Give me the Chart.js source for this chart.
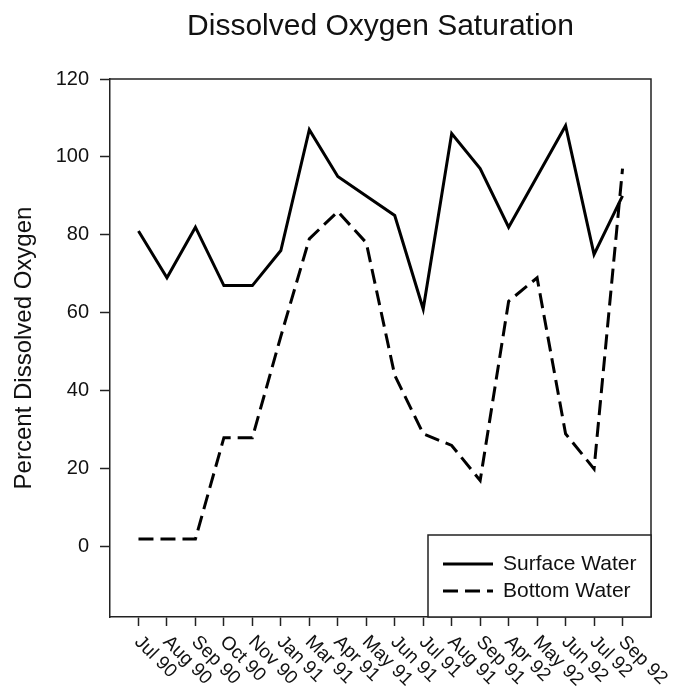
<!DOCTYPE html>
<html lang="en">
<head>
  <meta charset="UTF-8" />
  <title>Dissolved Oxygen Saturation</title>
  <script src="https://cdn.jsdelivr.net/npm/chart.js"></script>
  <style>
    body { margin: 0; background: #fff; }
    #wrap { width: 673px; height: 693px; position: relative; }
  </style>
</head>
<body>
  <div id="wrap"><canvas id="doChart"></canvas></div>
  <script>
    const chartTitle = 'Dissolved Oxygen Saturation';
    const months = ['Jul 90', 'Aug 90', 'Sep 90', 'Oct 90', 'Nov 90', 'Jan 91', 'Mar 91', 'Apr 91', 'May 91',
                    'Jun 91', 'Jul 91', 'Aug 91', 'Sep 91', 'Apr 92', 'May 92', 'Jun 92', 'Jul 92', 'Sep 92'];
    const surfaceWater = [81, 69, 82, 67, 67, 76, 107, 95, 90, 85, 61, 106, 97, 82, 95, 108, 75, 90];
    const bottomWater = [2, 2, 2, 28, 28, 54, 79, 86, 78, 44, 29, 26, 17, 63, 69, 29, 20, 97];
    const yTicks = [0, 20, 40, 60, 80, 100, 120];

    const FONT = '"Liberation Sans", Arial, sans-serif';
    const INK = '#111';
    const AXIS = '#222';

    // title centred over the plot, top/right frame, slanted month labels, boxed legend
    const framePlugin = {
      id: 'frame',
      afterDatasetsDraw(chart) {
        const ctx = chart.ctx;
        const a = chart.chartArea;
        const x = chart.scales.x;
        ctx.save();

        ctx.font = '30px ' + FONT;
        ctx.fillStyle = INK;
        ctx.textAlign = 'center';
        ctx.textBaseline = 'alphabetic';
        ctx.fillText(chartTitle, (a.left + a.right) / 2, 35);

        ctx.strokeStyle = AXIS;
        ctx.lineWidth = 1.5;
        ctx.beginPath();
        ctx.moveTo(a.left, a.top);
        ctx.lineTo(a.right, a.top);
        ctx.lineTo(a.right, a.bottom);
        ctx.stroke();

        ctx.font = '19px ' + FONT;
        ctx.textAlign = 'left';
        ctx.textBaseline = 'middle';
        months.forEach((m, i) => {
          const px = x.getPixelForValue(i);
          ctx.save();
          ctx.translate(px - 1, a.bottom + 22);
          ctx.rotate(Math.PI / 4);
          ctx.fillText(m, 0, 0);
          ctx.restore();
        });

        // legend
        const bx = a.right - 223, by = a.bottom - 82;
        ctx.fillStyle = '#fff';
        ctx.fillRect(bx, by, 223, 82);
        ctx.strokeStyle = AXIS;
        ctx.lineWidth = 1.5;
        ctx.strokeRect(bx, by, 223, 82);
        ctx.font = '21px ' + FONT;
        chart.data.datasets.forEach((ds, i) => {
          const ly = by + 29 + i * 27;
          ctx.strokeStyle = ds.borderColor;
          ctx.lineWidth = ds.borderWidth;
          ctx.setLineDash(ds.borderDash || []);
          ctx.beginPath();
          ctx.moveTo(bx + 15, ly);
          ctx.lineTo(bx + 65, ly);
          ctx.stroke();
          ctx.setLineDash([]);
          ctx.fillStyle = INK;
          ctx.fillText(ds.label, bx + 75, ly);
        });
        ctx.restore();
      }
    };

    new Chart(document.getElementById('doChart'), {
      type: 'line',
      data: {
        datasets: [{
          label: 'Surface Water',
          data: surfaceWater.map((v, i) => ({ x: i, y: v })),
          borderColor: '#000',
          borderWidth: 3,
          pointRadius: 0,
          tension: 0
        }, {
          label: 'Bottom Water',
          data: bottomWater.map((v, i) => ({ x: i, y: v })),
          borderColor: '#000',
          borderWidth: 3,
          borderDash: [15, 7],
          pointRadius: 0,
          tension: 0
        }]
      },
      options: {
        responsive: true,
        maintainAspectRatio: false,
        animation: false,
        layout: { padding: { left: 0, right: 22, top: 79, bottom: 0 } },
        plugins: {
          legend: { display: false },
          tooltip: { enabled: false },
          title: { display: false }
        },
        scales: {
          x: {
            type: 'linear',
            min: -1,
            max: 18,
            afterBuildTicks: s => { s.ticks = months.map((m, i) => ({ value: i })); },
            afterFit: s => { s.height = 76; },
            ticks: { display: false },
            grid: { drawOnChartArea: false, drawTicks: true, tickLength: 9, tickColor: AXIS, tickWidth: 1.5 },
            border: { color: AXIS, width: 1.5 }
          },
          y: {
            min: -18,
            max: 120,
            afterBuildTicks: s => { s.ticks = yTicks.map(v => ({ value: v })); },
            afterFit: s => { s.width = 110; },
            ticks: { color: INK, padding: 11, font: { family: FONT, size: 20 } },
            grid: { drawOnChartArea: false, drawTicks: true, tickLength: 10, tickColor: AXIS, tickWidth: 1.5 },
            border: { color: AXIS, width: 1.5 },
            title: {
              display: true,
              text: 'Percent Dissolved Oxygen',
              color: INK,
              font: { family: FONT, size: 24 },
              padding: { top: 10, bottom: 0 }
            }
          }
        }
      },
      plugins: [framePlugin]
    });
  </script>
</body>
</html>
